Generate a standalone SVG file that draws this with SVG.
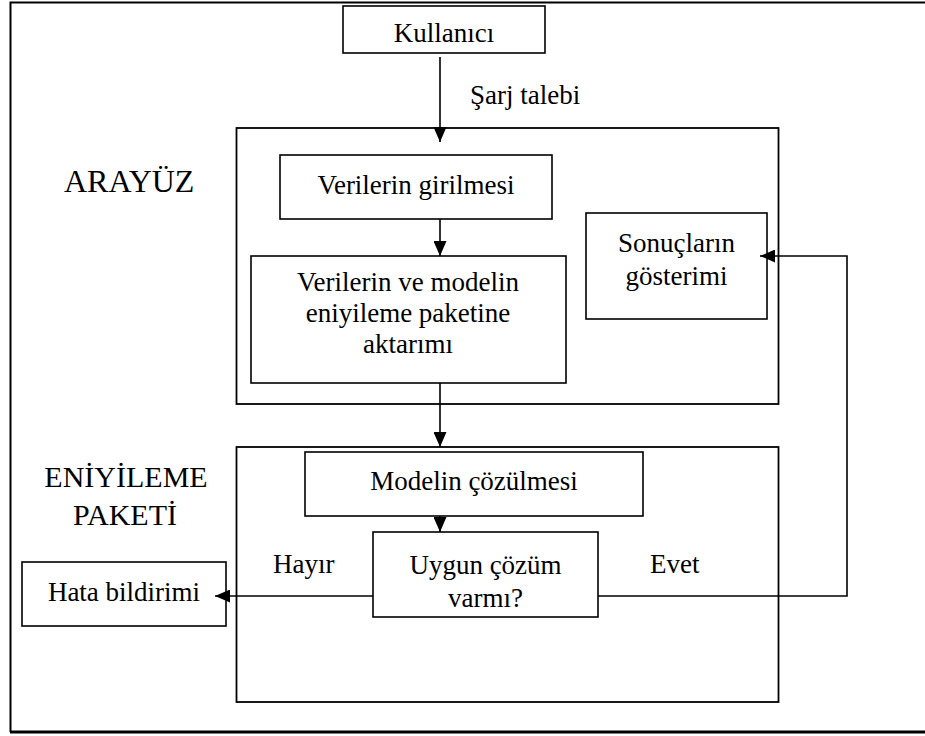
<svg xmlns="http://www.w3.org/2000/svg" width="925" height="736" viewBox="0 0 925 736">
<defs>
<style>
.box{fill:#fff;stroke:#000;stroke-width:1.6}
.grp{fill:none;stroke:#000;stroke-width:1.8}
.t{font-family:"Liberation Serif","Times New Roman",serif;font-size:27px;fill:#000}
.big{font-size:30px}
.m{text-anchor:middle}
.ln{fill:none;stroke:#000;stroke-width:1.6}
</style>
<marker id="ah" viewBox="0 0 15 13" refX="15" refY="6.5" markerWidth="15" markerHeight="13" markerUnits="userSpaceOnUse" orient="auto">
<path d="M0,0 L15,6.5 L0,13 Z" fill="#000"/>
</marker>
</defs>
<rect x="0" y="0" width="925" height="736" fill="#fff"/>
<g id="frame">
<path d="M10.5,732 L10.5,2.5 L930,2.5" fill="none" stroke="#000" stroke-width="2"/>
<path d="M10,732 L930,732" fill="none" stroke="#000" stroke-width="3"/>
</g>
<g id="arayuz">
<rect class="grp" x="236.5" y="128" width="542" height="276"/>
<text class="t" x="64" y="192" style="font-size:32px">ARAYÜZ</text>
</g>
<g id="eniyileme">
<rect class="grp" x="236.5" y="447" width="542" height="255"/>
<text class="t big m" x="126" y="487">ENİYİLEME</text>
<text class="t big m" x="125" y="525">PAKETİ</text>
</g>
<g id="kullanici">
<rect class="box" x="343" y="6" width="202" height="47"/>
<text class="t m" x="444" y="42">Kullanıcı</text>
</g>
<g id="verilerin-girilmesi">
<rect class="box" x="280" y="155" width="272" height="64"/>
<text class="t m" x="416" y="194">Verilerin girilmesi</text>
</g>
<g id="aktarim">
<rect class="box" x="251" y="256" width="315" height="127"/>
<text class="t m" x="408" y="291">Verilerin ve modelin</text>
<text class="t m" x="408" y="322">eniyileme paketine</text>
<text class="t m" x="408" y="353">aktarımı</text>
</g>
<g id="sonuclar">
<rect class="box" x="586" y="213" width="181" height="106"/>
<text class="t m" x="676.5" y="252">Sonuçların</text>
<text class="t m" x="676.5" y="285">gösterimi</text>
</g>
<g id="model-cozulmesi">
<rect class="box" x="305" y="452" width="338" height="64"/>
<text class="t m" x="474" y="490">Modelin çözülmesi</text>
</g>
<g id="uygun-cozum">
<rect class="box" x="373" y="532" width="225" height="85"/>
<text class="t m" x="485.5" y="574">Uygun çözüm</text>
<text class="t m" x="485.5" y="607">varmı?</text>
</g>
<g id="hata">
<rect class="box" x="22" y="562" width="204" height="64"/>
<text class="t m" x="124" y="601">Hata bildirimi</text>
</g>
<g id="connectors">
<path class="ln" d="M440,57 L440,142" marker-end="url(#ah)"/>
<text class="t" x="470" y="104">Şarj talebi</text>
<path class="ln" d="M440,219 L440,256" marker-end="url(#ah)"/>
<path class="ln" d="M440,383 L440,447" marker-end="url(#ah)"/>
<path class="ln" d="M440,516 L440,532" marker-end="url(#ah)"/>
<path class="ln" d="M373,596 L215,596" marker-end="url(#ah)"/>
<text class="t" x="273" y="573">Hayır</text>
<path class="ln" d="M598,596 L847,596 L847,256 L760,256" marker-end="url(#ah)"/>
<text class="t" x="650" y="573">Evet</text>
</g>
</svg>
